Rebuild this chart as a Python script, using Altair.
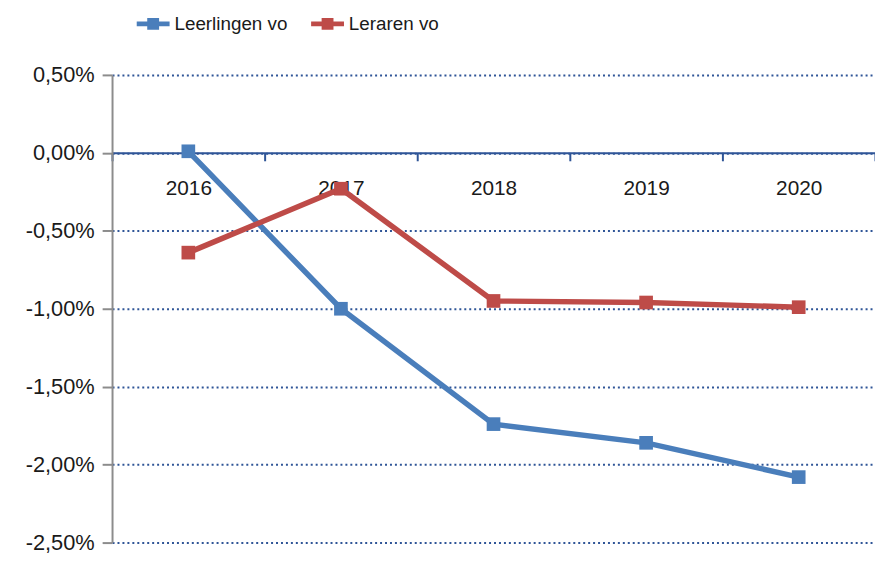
import altair as alt
import pandas as pd

years = ["2016", "2017", "2018", "2019", "2020"]
leerlingen = [0.01, -1.00, -1.74, -1.86, -2.08]
leraren = [-0.64, -0.23, -0.95, -0.96, -0.99]
series_names = ["Leerlingen vo", "Leraren vo"]
colors = ["#4A7EBB", "#BE4B48"]
y_ticks = [0.5, 0.0, -0.5, -1.0, -1.5, -2.0, -2.5]

rows = []
for yr, a, b in zip(years, leerlingen, leraren):
    rows.append({"jaar": yr, "reeks": series_names[0], "waarde": a})
    rows.append({"jaar": yr, "reeks": series_names[1], "waarde": b})
df = pd.DataFrame(rows)

W, H = 770, 472
YMIN, YMAX = -2.5, 0.5
zero_offset = -H * (0 - YMIN) / (YMAX - YMIN)

FONT = "Liberation Sans"
label_expr = "replace(replace(format(datum.value, '.2f'), '.', ','), '\u2212', '-') + '%'"

x_enc = alt.X(
    "jaar:O", sort=years,
    scale=alt.Scale(type="band", paddingInner=0, paddingOuter=0),
    axis=alt.Axis(title=None, orient="bottom", offset=zero_offset,
                  domainColor="#2F5597", domainWidth=2,
                  tickColor="#2F5597", tickWidth=2, tickSize=8, tickBand="extent",
                  labelFont=FONT, labelFontSize=21, labelColor="#1a1a1a",
                  labelPadding=17, labelAngle=0, grid=False),
)
y_enc = alt.Y(
    "waarde:Q",
    scale=alt.Scale(domain=[YMIN, YMAX], nice=False, zero=False),
    axis=alt.Axis(title=None, values=y_ticks, labelExpr=label_expr,
                  labelFont=FONT, labelFontSize=22, labelColor="#1a1a1a",
                  labelPadding=8, domainColor="#8C8C8C", domainWidth=2,
                  tickColor="#8C8C8C", tickWidth=2, tickSize=10,
                  grid=True, gridColor="#2F5597", gridDash=[2, 3], gridWidth=2),
)

sym_path = "M-1,0H1M-0.21,-0.21H0.21V0.21H-0.21Z"
legend = alt.Legend(orient="none", legendX=22, legendY=-71, direction="horizontal",
                    title=None, symbolType=sym_path, symbolSize=1100,
                    symbolStrokeWidth=5, symbolOpacity=1,
                    labelFont=FONT, labelFontSize=19,
                    labelColor="#1a1a1a", labelOffset=2, columnPadding=12)

lines = alt.Chart(df).mark_line(strokeWidth=5.5).encode(
    x=x_enc, y=y_enc,
    stroke=alt.Stroke("reeks:N", sort=series_names,
                      scale=alt.Scale(domain=series_names, range=colors), legend=legend),
)
points = alt.Chart(df).mark_point(shape="square", filled=True, size=190, opacity=1).encode(
    x=x_enc, y=y_enc,
    fill=alt.Fill("reeks:N", sort=series_names,
                  scale=alt.Scale(domain=series_names, range=colors), legend=legend),
)

chart = alt.layer(lines, points).properties(
    width=W, height=H,
    autosize=alt.AutoSizeParams(type="none"),
    padding={"left": 105, "top": 65, "right": 0, "bottom": 10},
    background="white",
).configure_view(stroke=None)

chart.save("out.html", embed_options={"renderer": "svg", "actions": False})
